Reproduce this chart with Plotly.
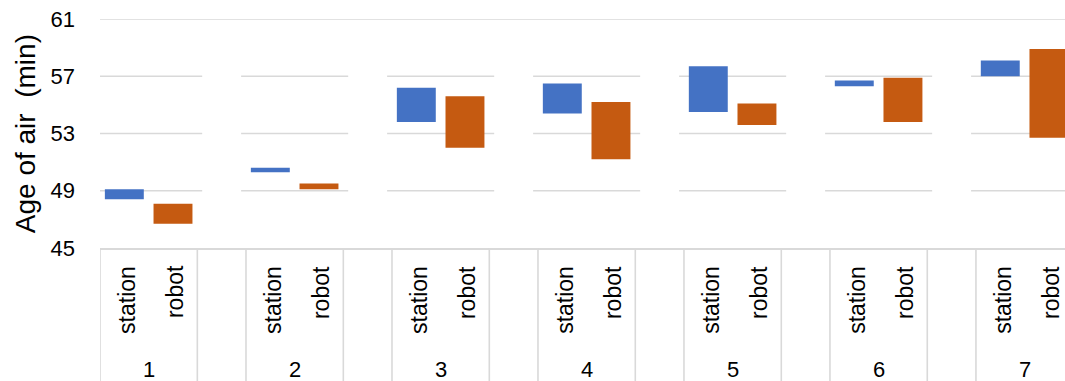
import plotly.graph_objects as go

# Age-of-air ranges (min) for each location, measured by the fixed station and by the robot
groups = ["1", "2", "3", "4", "5", "6", "7"]
methods = ["station", "robot"]
station_low = [48.4, 50.3, 53.8, 54.4, 54.5, 56.3, 57.0]
station_high = [49.1, 50.6, 56.2, 56.5, 57.7, 56.7, 58.1]
robot_low = [46.7, 49.1, 52.0, 51.2, 53.6, 53.8, 52.7]
robot_high = [48.1, 49.5, 55.6, 55.2, 55.1, 56.9, 58.9]
y_ticks = [45, 49, 53, 57, 61]

BLUE = "#4472C4"
ORANGE = "#C55A11"
GRID = "#D9D9D9"
FONT = "Liberation Sans, Arial, sans-serif"

# each group takes three slots: station, robot and an empty spacer
slot_station = [3 * k for k in range(len(groups))]
slot_robot = [3 * k + 1 for k in range(len(groups))]

fig = go.Figure()
fig.add_trace(go.Bar(
    x=slot_station,
    y=[h - l for l, h in zip(station_low, station_high)],
    base=station_low,
    width=0.8,
    marker=dict(color=BLUE, line=dict(width=0)),
    name="station",
))
fig.add_trace(go.Bar(
    x=slot_robot,
    y=[h - l for l, h in zip(robot_low, robot_high)],
    base=robot_low,
    width=0.8,
    marker=dict(color=ORANGE, line=dict(width=0)),
    name="robot",
))

x_max = 19.33
shapes = []
# horizontal grid lines, interrupted over the spacer slots
for v in y_ticks[1:-1]:
    for k in range(len(groups)):
        x0 = max(3 * k - 0.6, -0.5)
        x1 = min(3 * k + 1.6, x_max)
        shapes.append(dict(type="line", xref="x", yref="y", x0=x0, x1=x1, y0=v, y1=v,
                           line=dict(color=GRID, width=1.6), layer="below"))
shapes.append(dict(type="line", xref="paper", yref="y", x0=0, x1=1, y0=y_ticks[-1], y1=y_ticks[-1],
                   line=dict(color=GRID, width=1.6), layer="below"))

# separators of the two-level category axis
for k in range(len(groups)):
    for xb in (3 * k - 0.5, 3 * k + 1.5):
        if xb <= x_max:
            shapes.append(dict(type="line", xref="x", yref="paper", x0=xb, x1=xb, y0=0, y1=-0.62,
                               line=dict(color=GRID, width=1.6)))

annotations = []
for k, g in enumerate(groups):
    for j, m in enumerate(methods):
        annotations.append(dict(
            x=3 * k + j, y=-0.068, xref="x", yref="paper", text=m, showarrow=False,
            textangle=-90, xanchor="center", yanchor="top", xshift=2,
            font=dict(family=FONT, size=23, color="#000000"),
        ))
    annotations.append(dict(
        x=3 * k + 0.5, y=-0.53, xref="x", yref="paper", text=g, showarrow=False,
        xanchor="center", yanchor="middle",
        font=dict(family=FONT, size=22, color="#000000"),
    ))

# value-axis title
annotations.append(dict(
    x=-0.077, y=0.5, xref="paper", yref="paper", text="Age of air  (min)", showarrow=False,
    textangle=-90, xanchor="center", yanchor="middle",
    font=dict(family=FONT, size=28, color="#000000"),
))

fig.update_layout(
    width=1065, height=381,
    margin=dict(l=100, r=0, t=19, b=133),
    plot_bgcolor="white", paper_bgcolor="white",
    showlegend=False,
    barmode="overlay",
    shapes=shapes,
    annotations=annotations,
    font=dict(family=FONT, color="#000000"),
)
fig.update_xaxes(
    range=[-0.5, x_max], showticklabels=False, showgrid=False, zeroline=False,
    showline=True, linecolor=GRID, linewidth=1.6, ticks="",
)
fig.update_yaxes(
    range=[45, 61], tickvals=y_ticks, showgrid=False, zeroline=False, showline=False,
    ticks="", ticklabelstandoff=24, tickfont=dict(family=FONT, size=22, color="#000000"),
)

fig.write_html("out.html")
